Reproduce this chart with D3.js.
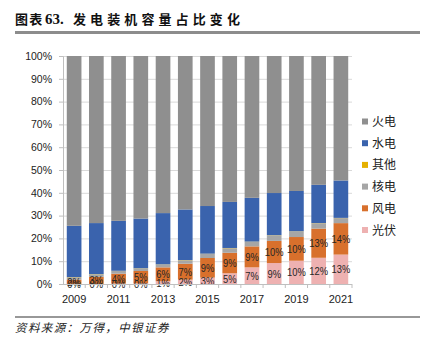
<!DOCTYPE html>
<html>
<head>
<meta charset="utf-8">
<script src="https://cdn.jsdelivr.net/npm/d3@7"></script>
<style>
  body { margin: 0; background: #fff; }
  svg { display: block; }
</style>
</head>
<body>
<script>
const years = [2009, 2010, 2011, 2012, 2013, 2014, 2015, 2016, 2017, 2018, 2019, 2020, 2021];
// share of installed capacity, %
const solar   = [0.03, 0.03, 0.2, 0.3, 1.2, 1.9, 2.8, 4.7, 7.3, 9.2, 10.2, 11.5, 12.9];
const wind    = [1.9, 3.1, 4.3, 5.4, 6.1, 7.0, 8.6, 9.0, 9.2, 9.7, 10.4, 12.8, 13.8];
const nuclear = [1.0, 1.1, 1.2, 1.1, 1.2, 1.5, 1.8, 2.0, 2.0, 2.4, 2.4, 2.3, 2.2];
const other   = [0.1, 0.1, 0.1, 0.1, 0.1, 0.1, 0.1, 0.1, 0.1, 0.1, 0.1, 0.1, 0.1];
const hydro   = [22.5, 22.4, 21.9, 21.8, 22.5, 22.2, 20.9, 20.2, 19.2, 18.5, 17.7, 16.8, 16.4];
const thermal = [74.5, 73.3, 72.3, 71.3, 68.9, 67.3, 65.8, 64.0, 62.2, 60.1, 59.2, 56.5, 54.6];

const seriesNames = ['光伏', '风电', '核电', '其他', '水电', '火电'];
const seriesValues = [solar, wind, nuclear, other, hydro, thermal];
const labelled = ['光伏', '风电'];
const yTicks = [0, 0.1, 0.2, 0.3, 0.4, 0.5, 0.6, 0.7, 0.8, 0.9, 1];
const xTickYears = [2009, 2011, 2013, 2015, 2017, 2019, 2021];

const color = d3.scaleOrdinal()
  .domain(seriesNames)
  .range(['#eeb1b1', '#d8702c', '#a6a6a6', '#e5b000', '#3a63ad', '#8f8f8f']);

const W = 421, H = 344;
const margin = { top: 56, right: 69, bottom: 60, left: 63 };
const width = W - margin.left - margin.right;
const height = H - margin.top - margin.bottom;

const rows = years.map((yr, i) => {
  const r = { year: yr };
  seriesNames.forEach((s, j) => { r[s] = seriesValues[j][i]; });
  return r;
});

const stacked = d3.stack()
  .keys(seriesNames)
  .offset(d3.stackOffsetExpand)(rows);

const svg = d3.select('body').append('svg')
  .attr('width', W)
  .attr('height', H);

// title
const title = svg.append('text')
  .attr('y', 24)
  .attr('font-family', '"Noto Sans CJK SC", sans-serif')
  .attr('font-weight', 'bold')
  .attr('font-size', 13)
  .attr('fill', '#111');
title.append('tspan').attr('x', 15).attr('letter-spacing', 1.2).text('图表');
title.append('tspan').attr('x', 45).attr('font-family', '"Liberation Serif", serif').attr('font-size', 15).text('63.');
title.append('tspan').attr('x', 73).attr('letter-spacing', 4.1).text('发电装机容量占比变化');

svg.append('line')
  .attr('x1', 15).attr('x2', 420)
  .attr('y1', 32.5).attr('y2', 32.5)
  .attr('stroke', '#8c8c8c')
  .attr('stroke-width', 3);

const g = svg.append('g')
  .attr('transform', `translate(${margin.left},${margin.top})`);

const x = d3.scaleBand()
  .domain(years)
  .range([0, width])
  .paddingInner(0.34)
  .paddingOuter(0.17);

const y = d3.scaleLinear()
  .domain([0, 1])
  .range([height, 0]);

// gridlines
g.append('g')
  .selectAll('line')
  .data(yTicks.slice(1))
  .join('line')
  .attr('x1', 0).attr('x2', width)
  .attr('y1', d => y(d) + 0.5).attr('y2', d => y(d) + 0.5)
  .attr('stroke', '#d9d9d9');

// bars
const layer = g.selectAll('.layer')
  .data(stacked)
  .join('g')
  .attr('class', 'layer')
  .attr('fill', d => color(d.key));

layer.selectAll('rect')
  .data(d => d)
  .join('rect')
  .attr('x', d => x(d.data.year))
  .attr('width', x.bandwidth())
  .attr('y', d => y(d[1]))
  .attr('height', d => y(d[0]) - y(d[1]));

// data labels
stacked.filter(s => labelled.includes(s.key)).forEach((s) => {
  g.append('g')
    .selectAll('text')
    .data(s)
    .join('text')
    .attr('x', d => x(d.data.year) + x.bandwidth() / 2)
    .attr('y', d => y((d[0] + d[1]) / 2) + 4)
    .attr('text-anchor', 'middle')
    .attr('font-family', '"Liberation Sans", Arial, sans-serif')
    .attr('font-size', 11)
    .attr('fill', '#262626')
    .attr('transform', d => {
      const cx = x(d.data.year) + x.bandwidth() / 2;
      return `translate(${cx},0) scale(0.85,1) translate(${-cx},0)`;
    })
    .text(d => d3.format('.0f')(d.data[s.key]) + '%');
});

// y axis
const yAxis = g.append('g')
  .call(d3.axisLeft(y).tickValues(yTicks).tickFormat(d3.format('.0%')).tickSize(4).tickPadding(7));
yAxis.select('.domain').attr('stroke', '#bfbfbf');
yAxis.selectAll('.tick line').attr('stroke', '#bfbfbf');
yAxis.selectAll('text')
  .attr('font-family', '"Liberation Sans", Arial, sans-serif')
  .attr('font-size', 10.5)
  .attr('fill', '#222');

// x axis
const xAxis = g.append('g')
  .attr('transform', `translate(0,${height})`);
xAxis.append('line')
  .attr('x1', 0).attr('x2', width)
  .attr('y1', 0.5).attr('y2', 0.5)
  .attr('stroke', '#bfbfbf');
xAxis.selectAll('.xt')
  .data(years)
  .join('line')
  .attr('class', 'xt')
  .attr('x1', d => x(d) + x.bandwidth() + x.step() * 0.17)
  .attr('x2', d => x(d) + x.bandwidth() + x.step() * 0.17)
  .attr('y1', 0).attr('y2', 4)
  .attr('stroke', '#bfbfbf');
xAxis.selectAll('.xl')
  .data(xTickYears)
  .join('text')
  .attr('class', 'xl')
  .attr('x', d => x(d) + x.bandwidth() / 2)
  .attr('y', 19)
  .attr('text-anchor', 'middle')
  .attr('font-family', '"Liberation Sans", Arial, sans-serif')
  .attr('font-size', 11)
  .attr('fill', '#222')
  .text(d => d);

// legend
const legendOrder = seriesNames.slice().reverse();
const legend = svg.append('g')
  .selectAll('g')
  .data(legendOrder)
  .join('g')
  .attr('transform', (d, i) => `translate(362,${121.5 + i * 21.7})`);
legend.append('rect')
  .attr('x', 0).attr('y', -3)
  .attr('width', 6).attr('height', 6)
  .attr('fill', d => color(d));
legend.append('text')
  .attr('x', 10).attr('y', 4.5)
  .attr('font-family', '"Noto Sans CJK SC", sans-serif')
  .attr('font-size', 12)
  .attr('fill', '#222')
  .text(d => d);

// source
svg.append('line')
  .attr('x1', 15).attr('x2', 420)
  .attr('y1', 317).attr('y2', 317)
  .attr('stroke', '#333')
  .attr('stroke-width', 1.2);
svg.append('text')
  .attr('x', 15).attr('y', 332)
  .attr('font-family', '"Noto Sans CJK SC", sans-serif')
  .attr('font-style', 'italic')
  .attr('font-size', 11.5)
  .attr('letter-spacing', 1.4)
  .attr('fill', '#222')
  .text('资料来源：万得，中银证券');
</script>
</body>
</html>
